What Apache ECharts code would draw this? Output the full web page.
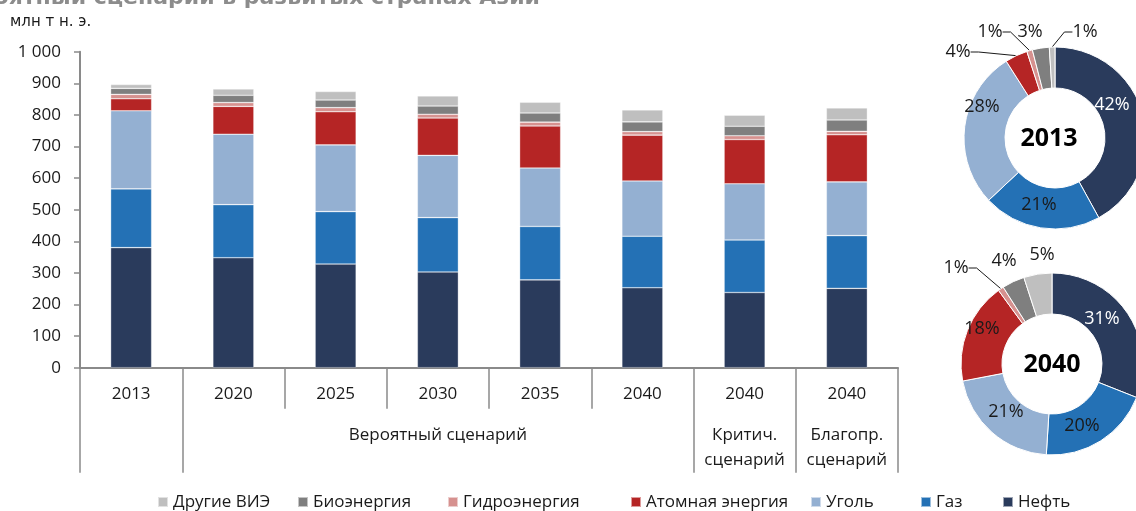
<!DOCTYPE html>
<html>
<head>
<meta charset="utf-8">
<script src="https://cdn.jsdelivr.net/npm/echarts@6/dist/echarts.min.js"></script>
<style>
  html, body { margin: 0; padding: 0; background: #fff; }
  #chart { width: 1136px; height: 511px; }
</style>
</head>
<body>
<div id="chart"></div>
<script>
// Primary energy consumption, developed Asia, mtoe
const categories = ['2013', '2020', '2025', '2030', '2035', '2040', '2040', '2040'];
const scenarioLabels = ['', '', '', 'Вероятный сценарий', '', '', 'Критич.\nсценарий', 'Благопр.\nсценарий'];
const yTicks = [0, 100, 200, 300, 400, 500, 600, 700, 800, 900, 1000];

const oil        = [380, 348, 328, 303, 278, 253, 238, 251];
const gas        = [186, 168, 166, 172, 169, 163, 166, 167];
const coal       = [247, 223, 211, 197, 185, 175, 178, 170];
const nuclear    = [38, 88, 105, 118, 133, 145, 140, 149];
const hydro      = [14, 12, 13, 12, 12, 11, 12, 11];
const bio        = [19, 23, 24, 26, 29, 31, 30, 36];
const otherRenew = [12, 20, 27, 32, 34, 38, 35, 38];

// Fuel mix shares, %
const pieYears  = ['2013', '2040'];
const share2013 = [42, 21, 28, 4, 1, 3, 1];
const share2040 = [31, 20, 21, 18, 1, 4, 5];

const sources = ['Нефть', 'Газ', 'Уголь', 'Атомная энергия', 'Гидроэнергия', 'Биоэнергия', 'Другие ВИЭ'];
const seriesValues = [oil, gas, coal, nuclear, hydro, bio, otherRenew];
const colors = ['#2a3b5c', '#2471b5', '#94b0d2', '#b52525', '#d6918f', '#7f7f7f', '#bfbfbf'];

const FONT = '"Open Sans", "Liberation Sans", sans-serif';
const TEXT = '#1a1a1a';
const AXIS = '#8a8a8a';

// Layout settings
const legendLefts = [157, 297, 447, 630, 810, 920, 1002];
const pieCenters = [[1055, 138], [1052, 364]];
const pieLabelPos = [
  [[1112, 105], [1039, 205], [982, 107], [958, 52], [990, 32], [1030, 32], [1085, 32]],
  [[1102, 319], [1082, 426], [1006, 412], [982, 329], [956, 268], [1004, 261], [1042, 255]]
];
const outsideSlices = [[3, 4, 5, 6], [4, 5, 6]];
const leaderSlices = [[3, 4, 6], [4]];
const whiteLabels = [[0], [0]];

const barSeries = sources.map((name, i) => ({
  name: name,
  type: 'bar',
  stack: 'total',
  barWidth: 41,
  data: seriesValues[i],
  itemStyle: { color: colors[i], borderColor: 'rgba(255,255,255,0.55)', borderWidth: 0.6 },
  emphasis: { disabled: true }
}));

const pieSeries = pieYears.map((year, p) => {
  const shares = p === 0 ? share2013 : share2040;
  return {
    name: year,
    type: 'pie',
    center: pieCenters[p],
    radius: [50, 91],
    startAngle: 90,
    clockwise: true,
    avoidLabelOverlap: false,
    itemStyle: { borderColor: '#ffffff', borderWidth: 1 },
    emphasis: { disabled: true },
    label: {
      formatter: '{c}%',
      fontFamily: FONT,
      fontSize: 18,
      color: TEXT
    },
    labelLine: { lineStyle: { color: '#1a1a1a', width: 1 }, length: 8, length2: 8 },
    labelLayout: function (params) {
      const pos = pieLabelPos[p][params.dataIndex];
      return { x: pos[0], y: pos[1], align: 'center', verticalAlign: 'middle' };
    },
    data: sources.map((name, i) => ({
      name: name,
      value: shares[i],
      itemStyle: { color: colors[i] },
      label: {
        position: outsideSlices[p].includes(i) ? 'outside' : 'inside',
        color: whiteLabels[p].includes(i) ? '#ffffff' : TEXT
      },
      labelLine: { show: leaderSlices[p].includes(i) }
    }))
  };
});

const option = {
  animation: false,
  backgroundColor: '#ffffff',
  textStyle: { fontFamily: FONT },
  grid: {
    left: 80, right: 238, top: 51.7, bottom: 143.3,
    outerBoundsMode: 'none'
  },
  legend: [...sources].reverse().map((name, i) => ({
    data: [name],
    left: legendLefts[i],
    top: 492,
    padding: 0,
    icon: 'rect',
    itemWidth: 10,
    itemHeight: 10,
    itemGap: 0,
    textStyle: { fontFamily: FONT, fontSize: 17, color: TEXT, lineHeight: 20 }
  })),
  xAxis: [
    {
      type: 'category',
      data: categories,
      position: 'bottom',
      axisLine: { lineStyle: { color: AXIS, width: 2 } },
      axisTick: { show: true, length: 41, lineStyle: { color: AXIS, width: 1.5 } },
      axisLabel: {
        interval: 0, margin: 16, fontFamily: FONT, fontSize: 17, color: TEXT, lineHeight: 20
      },
      splitLine: { show: false }
    },
    {
      type: 'category',
      data: categories,
      position: 'bottom',
      axisLine: { show: false },
      axisTick: {
        show: true,
        length: 105,
        interval: function (index) { return [0, 1, 6, 7].indexOf(index) >= 0; },
        lineStyle: { color: AXIS, width: 1.5 }
      },
      axisLabel: {
        interval: 0,
        margin: 55,
        fontFamily: FONT,
        fontSize: 17,
        color: TEXT,
        lineHeight: 25,
        formatter: function (value, index) { return scenarioLabels[index]; }
      },
      splitLine: { show: false }
    }
  ],
  yAxis: {
    type: 'value',
    min: yTicks[0],
    max: yTicks[yTicks.length - 1],
    interval: yTicks[1] - yTicks[0],
    axisLine: { show: true, lineStyle: { color: AXIS, width: 2 } },
    axisTick: { show: true, length: 6, lineStyle: { color: AXIS, width: 1.5 } },
    axisLabel: {
      margin: 19, fontFamily: FONT, fontSize: 17, color: TEXT,
      formatter: function (v) { return v >= 1000 ? String(v).replace(/(\d)(?=(\d{3})+$)/g, '$1 ') : String(v); }
    },
    splitLine: { show: false }
  },
  graphic: [
    {
      type: 'text', x: 540, y: 9,
      style: {
        text: 'Энергопотребление по видам топлива: вероятный сценарий в развитых странах Азии',
        fontFamily: '"DejaVu Sans", sans-serif', fontWeight: 'bold', fontSize: 22,
        fill: '#8c8c8c', align: 'right', verticalAlign: 'bottom'
      }
    },
    {
      type: 'text', x: 10, y: 22,
      style: {
        text: 'млн т н. э.', fontFamily: '"DejaVu Sans", sans-serif', fontSize: 15,
        fill: TEXT, align: 'left', verticalAlign: 'middle'
      }
    },
    {
      type: 'text', x: 1049, y: 139,
      style: {
        text: pieYears[0], fontFamily: FONT, fontWeight: 'bold', fontSize: 25,
        fill: '#000000', align: 'center', verticalAlign: 'middle'
      }
    },
    {
      type: 'text', x: 1052, y: 365,
      style: {
        text: pieYears[1], fontFamily: FONT, fontWeight: 'bold', fontSize: 25,
        fill: '#000000', align: 'center', verticalAlign: 'middle'
      }
    }
  ],
  series: barSeries.concat(pieSeries)
};

const chart = echarts.init(document.getElementById('chart'), null, { renderer: 'canvas' });
chart.setOption(option);
</script>
</body>
</html>
